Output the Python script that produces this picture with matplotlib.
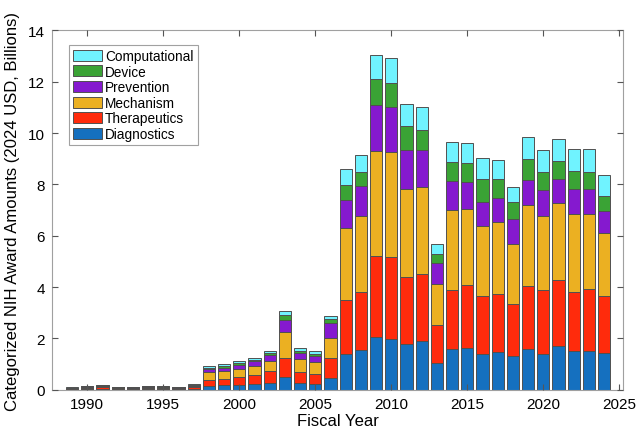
import numpy as np
import matplotlib
matplotlib.use('Agg')
import matplotlib.pyplot as plt

plt.rcParams['font.family'] = ['Liberation Sans', 'DejaVu Sans']

years = list(range(1989, 2025))

# values, billions of 2024 USD
diagnostics = [0.02, 0.03, 0.04, 0.03, 0.02, 0.03, 0.03, 0.02, 0.04,
               0.13, 0.17, 0.20, 0.21, 0.27, 0.51, 0.25, 0.24, 0.46,
               1.40, 1.53, 2.04, 1.99, 1.78, 1.89, 1.03, 1.59, 1.63,
               1.38, 1.46, 1.31, 1.57, 1.39, 1.70, 1.50, 1.51, 1.42]
therapeutics = [0.03, 0.04, 0.05, 0.04, 0.04, 0.04, 0.04, 0.03, 0.07,
                0.25, 0.26, 0.28, 0.35, 0.46, 0.73, 0.44, 0.37, 0.76,
                2.11, 2.28, 3.19, 3.20, 2.63, 2.62, 1.49, 2.31, 2.45,
                2.29, 2.27, 2.03, 2.46, 2.48, 2.58, 2.30, 2.42, 2.23]
mechanism = [0.02, 0.04, 0.05, 0.03, 0.02, 0.04, 0.03, 0.03, 0.05,
             0.30, 0.30, 0.34, 0.38, 0.40, 1.01, 0.51, 0.47, 0.81,
             2.80, 2.94, 4.08, 4.09, 3.43, 3.39, 1.59, 3.09, 2.98,
             2.71, 2.81, 2.35, 3.15, 2.89, 3.01, 3.04, 2.91, 2.45]
prevention = [0.01, 0.02, 0.02, 0.01, 0.01, 0.02, 0.02, 0.01, 0.03,
              0.12, 0.13, 0.16, 0.17, 0.22, 0.48, 0.23, 0.22, 0.57,
              1.09, 1.17, 1.79, 1.73, 1.51, 1.45, 0.82, 1.14, 1.05,
              0.95, 0.92, 0.97, 1.01, 1.03, 0.93, 0.97, 0.97, 0.86]
device = [0.005, 0.01, 0.01, 0.005, 0.005, 0.005, 0.005, 0.005, 0.01,
          0.05, 0.07, 0.07, 0.06, 0.08, 0.17, 0.08, 0.10, 0.15,
          0.58, 0.56, 1.00, 0.95, 0.93, 0.79, 0.36, 0.76, 0.74,
          0.87, 0.74, 0.65, 0.79, 0.70, 0.69, 0.71, 0.69, 0.59]
computational = [0.005, 0.01, 0.01, 0.005, 0.005, 0.005, 0.005, 0.005, 0.01,
                 0.06, 0.06, 0.07, 0.08, 0.09, 0.16, 0.10, 0.10, 0.12,
                 0.64, 0.65, 0.93, 0.96, 0.85, 0.87, 0.39, 0.77, 0.78,
                 0.82, 0.77, 0.58, 0.85, 0.86, 0.87, 0.87, 0.87, 0.82]

series = [('Diagnostics', diagnostics, '#1570BF'),
          ('Therapeutics', therapeutics, '#FF2B0C'),
          ('Mechanism', mechanism, '#EBB022'),
          ('Prevention', prevention, '#8519CF'),
          ('Device', device, '#3AA335'),
          ('Computational', computational, '#70F3FF')]

fig = plt.figure(figsize=(6.39, 4.31), dpi=100)
ax = fig.add_axes([0.0814, 0.0935, 0.8936, 0.8335])

bottom = np.zeros(len(years))
handles = []
for name, vals, col in series:
    h = ax.bar(years, vals, width=0.8, bottom=bottom, color=col,
               edgecolor='#505050', linewidth=0.7, label=name)
    handles.append(h)
    bottom += np.array(vals)

ax.set_xlim(1987.68, 2025.25)
ax.set_ylim(0, 14)
ax.set_xticks(range(1990, 2026, 5))
ax.set_yticks(range(0, 15, 2))
ax.tick_params(direction='in', top=True, right=True, length=4, width=0.8,
               color='#555555', labelsize=11, pad=5)
for s in ax.spines.values():
    s.set_color('#a0a0a0')
    s.set_linewidth(0.8)
ax.set_axisbelow(False)

ax.set_xlabel('Fiscal Year', fontsize=12, labelpad=2)
ax.set_ylabel('Categorized NIH Award Amounts (2024 USD, Billions)', fontsize=12, labelpad=6)

leg = ax.legend(handles[::-1], [s[0] for s in series][::-1], loc='upper left',
                bbox_to_anchor=(0.03, 0.96), fontsize=9.8, frameon=True,
                fancybox=False, handlelength=2.15, handleheight=0.85,
                handletextpad=0.2, labelspacing=0.12, borderpad=0.3,
                borderaxespad=0)
leg.get_frame().set_edgecolor('#8a8a8a')
leg.get_frame().set_linewidth(0.8)

plt.savefig('out.png', dpi=100)
